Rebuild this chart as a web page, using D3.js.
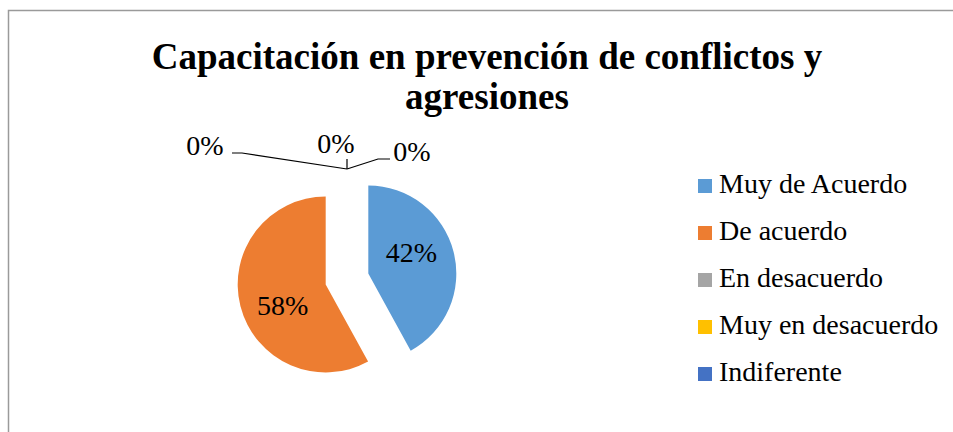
<!DOCTYPE html>
<html>
<head>
<meta charset="utf-8">
<script src="https://cdn.jsdelivr.net/npm/d3@7"></script>
<style>
  html, body { margin: 0; padding: 0; background: #fff; }
  svg { display: block; }
</style>
</head>
<body>
<svg id="chart" width="953" height="432"></svg>
<script>
const titleLines = ["Capacitación en prevención de conflictos y", "agresiones"];
const categories = ["Muy de Acuerdo", "De acuerdo", "En desacuerdo", "Muy en desacuerdo", "Indiferente"];
const values = [42, 58, 0, 0, 0];
const colors = ["#5B9BD5", "#ED7D31", "#A5A5A5", "#FFC000", "#4472C4"];

const svg = d3.select("#chart");
const W = 953, H = 432;
const serif = "'Liberation Serif', 'Times New Roman', Times, serif";

svg.append("rect").attr("x", 8.5).attr("y", 10.5).attr("width", W + 20).attr("height", H + 20)
  .attr("fill", "#fff").attr("stroke", "#9a9a9a").attr("stroke-width", 1.5);

// Title
svg.append("text").attr("x", 487).attr("y", 69)
  .attr("text-anchor", "middle").attr("font-family", serif).attr("font-weight", "bold")
  .attr("font-size", 37).attr("fill", "#000")
  .selectAll("tspan").data(titleLines).join("tspan")
  .attr("x", 487).attr("dy", (d, i) => i === 0 ? 0 : 40).text(d => d);

// Pie
const cx = 347, cy = 279, R = 88, explode = 22;
const total = d3.sum(values);
const pie = d3.pie().sort(null).value(d => d.v);
const arcs = pie(categories.map((c, i) => ({ c, v: values[i], col: colors[i] })));
const arc = d3.arc().innerRadius(0).outerRadius(R);
const labelR = 48, labelShift = -0.21;

const g = svg.append("g").attr("transform", `translate(${cx},${cy})`);
function offset(d) {
  const a = (d.startAngle + d.endAngle) / 2;
  return [explode * Math.sin(a), -explode * Math.cos(a)];
}
const sl = g.selectAll("g.slice").data(arcs).join("g").attr("class", "slice")
  .attr("transform", d => { const o = offset(d); return `translate(${o[0]},${o[1]})`; });
sl.append("path").attr("d", arc).attr("fill", d => d.data.col);

const fmt = d => Math.round(d.data.v / total * 100) + "%";
sl.filter(d => d.data.v > 0).append("text")
  .attr("transform", d => {
    const a = (d.startAngle + d.endAngle) / 2 + labelShift;
    return `translate(${labelR * Math.sin(a)},${-labelR * Math.cos(a)})`;
  })
  .attr("text-anchor", "middle").attr("dominant-baseline", "central")
  .attr("font-family", serif).attr("font-size", 28).attr("fill", "#000")
  .text(fmt);

// Zero-value labels with leader lines
const zeros = arcs.filter(d => d.data.v === 0);
const leaderLayouts = [
  { lx: -105, ly: -16, tx: -142, ty: -14, hx: -10 },
  { lx: 0, ly: -10, tx: -11, ty: -16, hx: 0 },
  { lx: 31, ly: -10, tx: 65, ty: -8, hx: 12 }
];
zeros.forEach((d, i) => {
  const o = offset(d);
  const a = d.endAngle;
  const ax = cx + o[0] + R * Math.sin(a), ay = cy + o[1] - R * Math.cos(a);
  const L = leaderLayouts[i];
  const pts = [[ax, ay], [ax + L.lx, ay + L.ly]];
  if (L.hx !== 0) pts.push([ax + L.lx + L.hx, ay + L.ly]);
  svg.append("path").attr("d", d3.line()(pts)).attr("fill", "none")
    .attr("stroke", "#000").attr("stroke-width", 1.2);
  svg.append("text").attr("x", ax + L.tx).attr("y", ay + L.ty)
    .attr("text-anchor", "middle").attr("font-family", serif).attr("font-size", 28)
    .attr("fill", "#000").text(fmt(d));
});

// Legend
const lg = svg.append("g").attr("transform", "translate(698,179)");
const item = lg.selectAll("g").data(categories).join("g")
  .attr("transform", (d, i) => `translate(0,${i * 47})`);
item.append("rect").attr("width", 14).attr("height", 14).attr("fill", (d, i) => colors[i]);
item.append("text").attr("x", 21).attr("y", 14).attr("font-family", serif)
  .attr("font-size", 28).attr("fill", "#000").text(d => d);
</script>
</body>
</html>
